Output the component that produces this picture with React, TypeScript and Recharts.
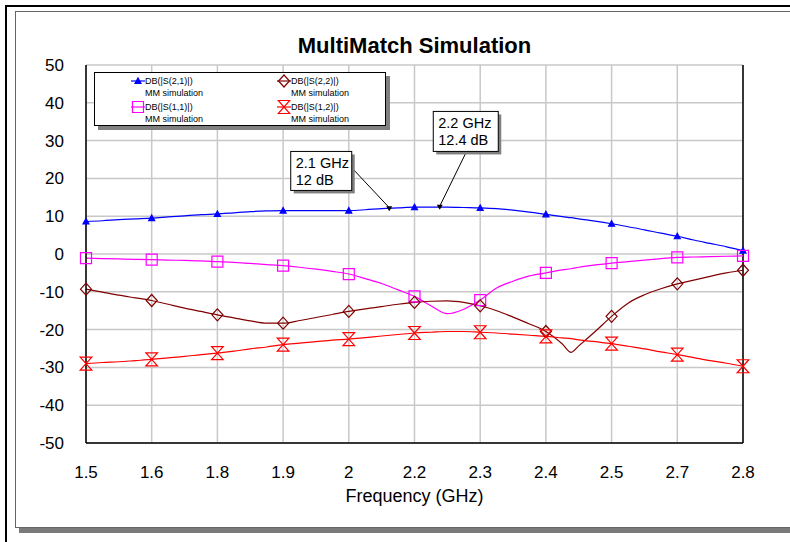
import React from "react"
import { ComposedChart, Line, XAxis, YAxis, CartesianGrid, ReferenceLine, ReferenceDot } from "recharts"

// frequency sweep (GHz)
const freq = [
  1.5, 1.5325, 1.565, 1.5975, 1.63, 1.6625, 1.695, 1.7275, 1.76, 1.7925, 1.825, 1.8575, 1.89, 1.9225,
  1.955, 1.9875, 2.02, 2.0525, 2.085, 2.1175, 2.15, 2.1825, 2.215, 2.2475, 2.28, 2.3125, 2.345, 2.3775,
  2.41, 2.4425, 2.46, 2.475, 2.5075, 2.54, 2.5725, 2.605, 2.6375, 2.67, 2.7025, 2.735, 2.7675, 2.8,
]

const s21 = [
  8.6, 8.8, 9.1, 9.3, 9.5, 9.8, 10.1, 10.4, 10.6, 10.9, 11.2, 11.4, 11.5, 11.5, 11.5, 11.5, 11.5, 11.7,
  12.0, 12.2, 12.4, 12.4, 12.4, 12.3, 12.2, 12.0, 11.6, 11.1, 10.5, 9.9, 9.6, 9.3, 8.7, 8.0, 7.2, 6.4,
  5.5, 4.7, 3.7, 2.8, 1.9, 0.9,
]

const s11 = [
  -1.1, -1.2, -1.3, -1.4, -1.5, -1.6, -1.7, -1.8, -2.0, -2.2, -2.5, -2.8, -3.1, -3.5, -4.0, -4.6, -5.3,
  -6.5, -7.8, -9.5, -11.2, -13.7, -15.8, -14.6, -12.2, -9.0, -7.2, -5.8, -5.0, -4.2, -3.9, -3.5, -2.9,
  -2.4, -2.0, -1.6, -1.2, -0.9, -0.8, -0.7, -0.6, -0.5,
]

const s22 = [
  -9.3, -10.1, -10.9, -11.6, -12.3, -13.3, -14.3, -15.2, -16.1, -16.9, -17.7, -18.3, -18.3, -17.6, -16.8,
  -16.0, -15.2, -14.5, -13.9, -13.3, -12.8, -12.5, -12.4, -12.8, -13.7, -15.0, -16.7, -18.5, -20.5, -23.8,
  -26.0, -24.3, -20.5, -16.5, -13.0, -10.8, -9.2, -7.9, -6.9, -5.9, -5.0, -4.3,
]

const s12 = [
  -29.0, -28.7, -28.5, -28.2, -27.9, -27.5, -27.1, -26.6, -26.2, -25.7, -25.1, -24.6, -24.0, -23.6, -23.2,
  -22.8, -22.5, -22.1, -21.7, -21.3, -20.9, -20.7, -20.5, -20.5, -20.7, -20.9, -21.2, -21.5, -21.8, -22.2,
  -22.4, -22.7, -23.2, -23.7, -24.4, -25.1, -25.9, -26.6, -27.4, -28.2, -28.9, -29.7,
]

// points where the markers sit, also the x ticks
const markerFreq = [1.5, 1.63, 1.76, 1.89, 2.02, 2.15, 2.28, 2.41, 2.54, 2.67, 2.8]
const xLabels = ["1.5", "1.6", "1.8", "1.9", "2", "2.2", "2.3", "2.4", "2.5", "2.7", "2.8"]
const yTicks = [-50, -40, -30, -20, -10, 0, 10, 20, 30, 40, 50]

const data = freq.map((f, i) => ({ f, s21: s21[i], s11: s11[i], s22: s22[i], s12: s12[i] }))

const isMarker = (f: number) => markerFreq.some((m) => Math.abs(m - f) < 1e-6)

const FONT = '"Liberation Sans", Arial, sans-serif'

type Shape = "tri" | "square" | "diamond" | "hour"

function markerPath(shape: Shape, x: number, y: number) {
  if (shape === "tri") return `M${x - 3},${y + 2.5}L${x + 3},${y + 2.5}L${x},${y - 3}Z`
  if (shape === "square") return `M${x - 5.5},${y - 5.5}h11v11h-11Z`
  if (shape === "diamond") return `M${x},${y - 6}L${x + 5.5},${y}L${x},${y + 6}L${x - 5.5},${y}Z`
  return `M${x - 5.8},${y - 6.5}L${x + 5.8},${y - 6.5}L${x - 5.8},${y + 6.5}L${x + 5.8},${y + 6.5}Z`
}

const makeDot = (shape: Shape, color: string) => (props: any) => {
  const { cx, cy, payload, index } = props
  if (!isMarker(payload.f) || cx == null) return <g key={`n${index}`} />
  return (
    <path
      key={`d${index}`}
      d={markerPath(shape, cx, cy)}
      fill={shape === "tri" ? color : "none"}
      stroke={color}
      strokeWidth={1.2}
    />
  )
}

const callout = (dx: number, dy: number, w: number, h: number, lx: number, ly: number, lines: string[]) =>
  (props: any) => {
    const { cx, cy } = props
    return (
      <g>
        <line x1={cx + lx} y1={cy + ly} x2={cx} y2={cy - 1} stroke="#000" strokeWidth={1} />
        <rect x={cx + dx + 3} y={cy + dy + 3} width={w} height={h} fill="#808080" />
        <rect x={cx + dx} y={cy + dy} width={w} height={h} fill="#fff" stroke="#000" strokeWidth={1} />
        {lines.map((t, i) => (
          <text key={i} x={cx + dx + 5} y={cy + dy + 17 + i * 17} fontSize={14.5} fontFamily={FONT} fill="#000">
            {t}
          </text>
        ))}
        <path d={`M${cx - 3},${cy - 2.5}L${cx + 3},${cy - 2.5}L${cx},${cy + 2.5}Z`} fill="#000" />
      </g>
    )
  }

const legendItems = [
  { name: "DB(|S(2,1)|)", color: "#0000ff", shape: "tri" as Shape, left: 36, top: 3 },
  { name: "DB(|S(2,2)|)", color: "#800000", shape: "diamond" as Shape, left: 182, top: 3 },
  { name: "DB(|S(1,1)|)", color: "#ff00ff", shape: "square" as Shape, left: 36, top: 29 },
  { name: "DB(|S(1,2)|)", color: "#ff0000", shape: "hour" as Shape, left: 182, top: 29 },
]

function LegendBox() {
  return (
    <div
      style={{
        position: "absolute", left: 94, top: 72, width: 290, height: 52, background: "#fff",
        border: "1px solid #000", boxShadow: "4px 4px 0 #808080", fontFamily: FONT, fontSize: 9,
        lineHeight: "11.5px", color: "#000",
      }}
    >
      {legendItems.map((it) => (
        <div key={it.name} style={{ position: "absolute", left: it.left, top: it.top }}>
          <svg width={14} height={14} style={{ position: "absolute", left: 0, top: -2 }}>
            <line x1={0} y1={7} x2={14} y2={7} stroke={it.color} strokeWidth={1.2} />
            <path d={markerPath(it.shape, 7, 7)} fill={it.shape === "tri" ? it.color : "none"} stroke={it.color} strokeWidth={1.2} />
          </svg>
          <div style={{ position: "absolute", left: 14, top: 0, whiteSpace: "nowrap" }}>
            {it.name}
            <br />
            MM simulation
          </div>
        </div>
      ))}
    </div>
  )
}

export default function App() {
  return (
    <div style={{ position: "absolute", left: 0, top: 0, width: 790, height: 542, background: "#fff", overflow: "hidden", fontFamily: FONT }}>
      <div style={{ position: "absolute", left: 5, top: 5, width: 800, height: 600, borderTop: "2px solid #000", borderLeft: "2px solid #000" }} />
      <div style={{ position: "absolute", left: 15, top: 11, width: 800, height: 515, border: "1px solid #666", boxShadow: "4px 5px 0 #7a7a7a", background: "#fff" }} />
      <ComposedChart
        width={790}
        height={542}
        data={data}
        margin={{ top: 65, right: 47, bottom: 39, left: 0 }}
        style={{ position: "absolute", left: 0, top: 0 }}
      >
        <CartesianGrid stroke="#c8c8c8" strokeWidth={1.5} />
        <XAxis
          type="number"
          dataKey="f"
          domain={[1.5, 2.8]}
          ticks={markerFreq}
          tickFormatter={(v: number) => xLabels[markerFreq.findIndex((m) => Math.abs(m - v) < 1e-6)]}
          height={60}
          tickSize={0}
          tickMargin={23}
          axisLine={{ stroke: "#000", strokeWidth: 1.5 }}
          tick={{ fill: "#000", fontSize: 17, fontFamily: FONT }}
        />
        <YAxis
          type="number"
          domain={[-50, 50]}
          ticks={yTicks}
          width={86}
          tickSize={0}
          tickMargin={22}
          axisLine={{ stroke: "#000", strokeWidth: 1.5 }}
          tick={{ fill: "#000", fontSize: 17, fontFamily: FONT }}
        />
        <ReferenceLine x={2.8} stroke="#000" strokeWidth={1.5} />
        <Line dataKey="s21" type="monotone" stroke="#0000ff" strokeWidth={1.2} dot={makeDot("tri", "#0000ff")} activeDot={false} isAnimationActive={false} />
        <Line dataKey="s11" type="monotone" stroke="#ff00ff" strokeWidth={1.2} dot={makeDot("square", "#ff00ff")} activeDot={false} isAnimationActive={false} />
        <Line dataKey="s22" type="monotone" stroke="#800000" strokeWidth={1.2} dot={makeDot("diamond", "#800000")} activeDot={false} isAnimationActive={false} />
        <Line dataKey="s12" type="monotone" stroke="#ff0000" strokeWidth={1.2} dot={makeDot("hour", "#ff0000")} activeDot={false} isAnimationActive={false} />
        <ReferenceDot x={2.1} y={12} shape={callout(-98.5, -57.2, 61, 39, -37.2, -40.6, ["2.1 GHz", "12 dB"])} />
        <ReferenceDot x={2.2} y={12.4} shape={callout(-6.5, -95.7, 65, 40, 26.8, -55.7, ["2.2 GHz", "12.4 dB"])} />
      </ComposedChart>
      <div style={{ position: "absolute", left: 86, top: 35, width: 657, textAlign: "center", fontSize: 22, fontWeight: "bold", lineHeight: "22px", color: "#000" }}>
        MultiMatch Simulation
      </div>
      <div style={{ position: "absolute", left: 86, top: 485, width: 657, textAlign: "center", fontSize: 18, lineHeight: "22px", color: "#000" }}>
        Frequency (GHz)
      </div>
      <LegendBox />
    </div>
  )
}
